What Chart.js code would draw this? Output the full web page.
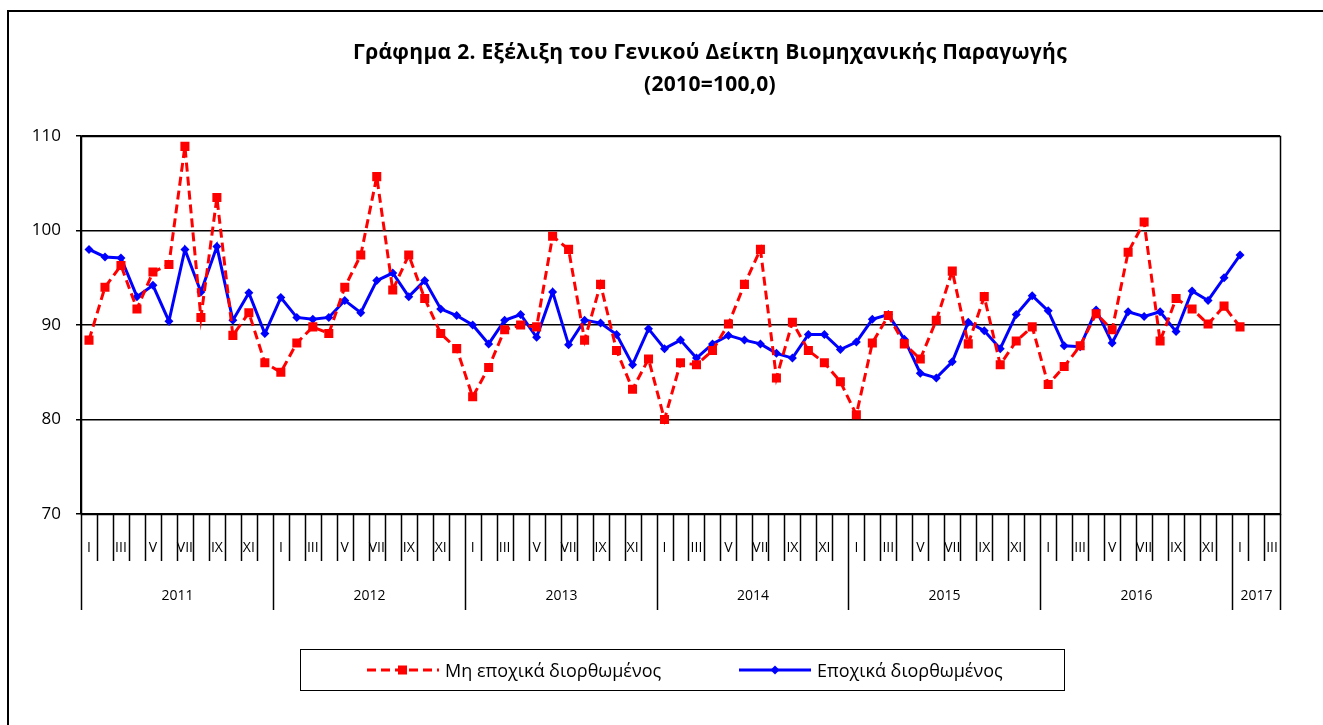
<!DOCTYPE html>
<html>
<head>
<meta charset="utf-8">
<script src="https://cdn.jsdelivr.net/npm/chart.js@4.4.0/dist/chart.umd.min.js"></script>
<style>
  html, body { margin: 0; padding: 0; background: #fff; overflow: hidden; }
  #wrap { position: relative; width: 1323px; height: 725px; overflow: hidden; font-family: "Open Sans", sans-serif; }
  #frame { position: absolute; left: 7px; top: 10px; width: 1400px; height: 800px; border: 2px solid #000; box-sizing: border-box; }
  #chart { position: absolute; left: 0; top: 0; }
  #title { position: absolute; left: 0; width: 1420px; top: 35px; text-align: center; font-weight: bold; font-size: 21px; letter-spacing: 0.3px; line-height: 32px; color: #000; }
  #legend { position: absolute; left: 300px; top: 649px; width: 765px; height: 42px; border: 1.5px solid #000; box-sizing: border-box; font-size: 18px; }
  #legend .item { position: absolute; top: 0; height: 39px; display: flex; align-items: center; }
  #legend svg { margin-right: 6px; }
</style>
</head>
<body>
<div id="wrap">
  <div id="frame"></div>
  <canvas id="chart" width="1323" height="725"></canvas>
  <div id="title">Γράφημα 2. Εξέλιξη του Γενικού Δείκτη Βιομηχανικής Παραγωγής<br>(2010=100,0)</div>
  <div id="legend">
    <span class="item" style="left:66px">
      <svg width="72" height="14"><line x1="0" y1="7" x2="72" y2="7" stroke="#ff0000" stroke-width="3" stroke-dasharray="9,5"/><rect x="31" y="2.5" width="9" height="9" fill="#ff0000"/></svg>Μη εποχικά διορθωμένος
    </span>
    <span class="item" style="left:438px">
      <svg width="72" height="14"><line x1="0" y1="7" x2="72" y2="7" stroke="#0000ff" stroke-width="3"/><polygon points="36,2.5 40.5,7 36,11.5 31.5,7" fill="#0000ff"/></svg>Εποχικά διορθωμένος
    </span>
  </div>
</div>
<script>
const years = ["2011", "2012", "2013", "2014", "2015", "2016", "2017"];
const monthsPerYear = [12, 12, 12, 12, 12, 12, 3];
const monthNumerals = ["I", "II", "III", "IV", "V", "VI", "VII", "VIII", "IX", "X", "XI", "XII"];
const yTicks = [70, 80, 90, 100, 110];

// Μη εποχικά διορθωμένος (Jan 2011 - Jan 2017)
const nonAdjusted = [
  88.4, 94.0, 96.3, 91.7, 95.6, 96.4, 108.9, 90.8, 103.5, 88.9, 91.3, 86.0,
  85.0, 88.1, 89.8, 89.1, 94.0, 97.4, 105.7, 93.7, 97.4, 92.8, 89.1, 87.5,
  82.4, 85.5, 89.5, 90.0, 89.8, 99.4, 98.0, 88.4, 94.3, 87.3, 83.2, 86.4,
  80.0, 86.0, 85.8, 87.3, 90.1, 94.3, 98.0, 84.4, 90.3, 87.3, 86.0, 84.0,
  80.5, 88.1, 91.0, 88.0, 86.4, 90.5, 95.7, 88.0, 93.0, 85.8, 88.3, 89.8,
  83.7, 85.6, 87.8, 91.2, 89.5, 97.7, 100.9, 88.3, 92.8, 91.7, 90.1, 92.0,
  89.8
];

// Εποχικά διορθωμένος
const adjusted = [
  98.0, 97.2, 97.1, 93.0, 94.2, 90.4, 98.0, 93.5, 98.3, 90.5, 93.4, 89.1,
  92.9, 90.8, 90.6, 90.8, 92.6, 91.3, 94.7, 95.5, 93.0, 94.7, 91.7, 91.0,
  90.0, 88.0, 90.5, 91.1, 88.7, 93.5, 87.9, 90.5, 90.2, 89.0, 85.8, 89.6,
  87.5, 88.4, 86.5, 88.0, 88.9, 88.4, 88.0, 87.0, 86.5, 89.0, 89.0, 87.4,
  88.2, 90.6, 91.1, 88.5, 84.9, 84.4, 86.1, 90.3, 89.4, 87.5, 91.1, 93.1,
  91.5, 87.8, 87.7, 91.6, 88.1, 91.4, 90.9, 91.4, 89.3, 93.6, 92.6, 95.0,
  97.4
];

const categories = [];
years.forEach((yr, k) => {
  monthNumerals.slice(0, monthsPerYear[k]).forEach(m => categories.push(m + " " + yr));
});

// draws the plot frame and the two-level month / year axis under the plot
const axisPlugin = {
  id: "monthYearAxis",
  afterDraw(chart) {
    const { ctx, chartArea: a } = chart;
    const x = chart.scales.x;
    const step = x.getPixelForValue(1) - x.getPixelForValue(0);
    const edge = i => Math.round(x.getPixelForValue(i) - step / 2) + 0.5;
    ctx.save();
    ctx.strokeStyle = "#000";
    ctx.fillStyle = "#000";
    ctx.lineWidth = 1.5;
    ctx.strokeRect(Math.round(a.left) + 0.5, Math.round(a.top) + 0.5, Math.round(a.width), Math.round(a.height));

    ctx.font = "14px 'Open Sans'";
    ctx.textAlign = "center";
    ctx.textBaseline = "middle";
    let idx = 0;
    years.forEach((yr, k) => {
      const start = idx;
      for (let m = 0; m < monthsPerYear[k]; m++, idx++) {
        const px = edge(idx);
        ctx.beginPath();
        ctx.moveTo(px, a.bottom);
        ctx.lineTo(px, a.bottom + (m === 0 ? 96 : 47));
        ctx.stroke();
        if (m % 2 === 0) ctx.fillText(monthNumerals[m], x.getPixelForValue(idx), a.bottom + 34);
      }
      const left = edge(start), right = edge(idx);
      ctx.fillText(yr, (left + right) / 2, a.bottom + 82);
    });
    const last = edge(idx);
    ctx.beginPath();
    ctx.moveTo(last, a.bottom);
    ctx.lineTo(last, a.bottom + 96);
    ctx.stroke();
    ctx.restore();
  }
};

new Chart(document.getElementById("chart"), {
  type: "line",
  data: {
    labels: categories,
    datasets: [
      {
        label: "Μη εποχικά διορθωμένος",
        data: nonAdjusted,
        borderColor: "#ff0000",
        backgroundColor: "#ff0000",
        borderWidth: 3,
        borderDash: [9, 5],
        pointStyle: "rect",
        pointRadius: 6.4,
        pointBorderWidth: 0,
        fill: false,
        tension: 0
      },
      {
        label: "Εποχικά διορθωμένος",
        data: adjusted,
        borderColor: "#0000ff",
        backgroundColor: "#0000ff",
        borderWidth: 3,
        pointStyle: "rectRot",
        pointRadius: 4.5,
        pointBorderWidth: 0,
        fill: false,
        tension: 0
      }
    ]
  },
  options: {
    responsive: false,
    animation: false,
    layout: { padding: { left: 8, top: 136, right: 43, bottom: 211 } },
    plugins: {
      legend: { display: false },
      title: { display: false },
      tooltip: { enabled: false }
    },
    scales: {
      x: {
        offset: true,
        grid: { display: false },
        border: { display: false },
        ticks: { display: false },
        afterFit(scale) { scale.height = 0; }
      },
      y: {
        min: 70,
        max: 110,
        afterBuildTicks(scale) { scale.ticks = yTicks.map(v => ({ value: v })); },
        afterFit(scale) { scale.width = 73; },
        ticks: { color: "#000", font: { family: "'Open Sans'", size: 17 }, padding: 15 },
        grid: { color: "#000", lineWidth: 1.5, tickLength: 5, tickColor: "#000" },
        border: { color: "#000", width: 1.5 }
      }
    }
  },
  plugins: [axisPlugin]
});
</script>
</body>
</html>
